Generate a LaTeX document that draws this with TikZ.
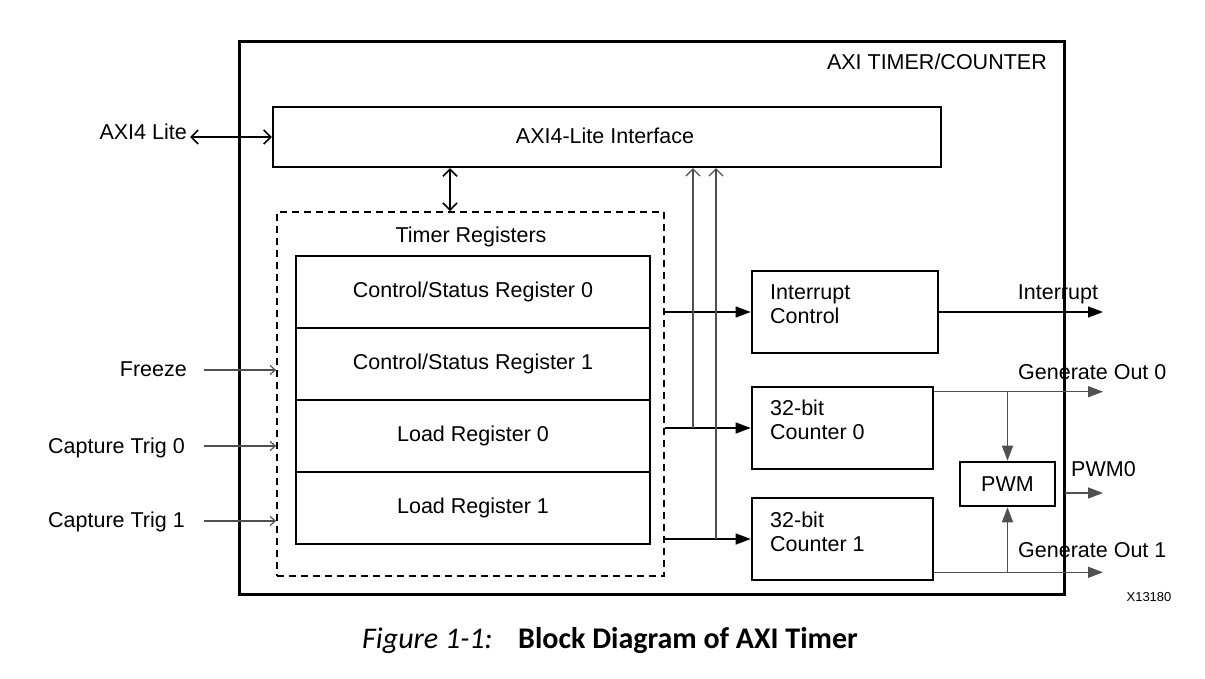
\documentclass[tikz,border=0pt]{standalone}
\usepackage{fontspec}
\setmainfont{Liberation Sans}
\newfontfamily\capfont{Carlito}
\usetikzlibrary{arrows.meta}
\definecolor{lgray}{RGB}{80,80,80}
\tikzset{
  box/.style={draw, line width=2.6pt, inner sep=0pt},
  lbl/.style={inner sep=0pt},
  dbl/.style={line width=1.6pt, {Straight Barb[length=7pt,width=14pt,line width=1.6pt]}-{Straight Barb[length=7pt,width=14pt,line width=1.6pt]}},
  upar/.style={line width=1.4pt, draw=lgray, -{Straight Barb[length=7pt,width=14pt,line width=1.2pt]}},
  inar/.style={line width=1.3pt, draw=lgray, -{Straight Barb[length=5pt,width=9pt,line width=1.2pt]}},
  farrow/.style={line width=1.4pt, -{Triangle[length=15pt,width=11pt]}},
  garrow/.style={line width=1.4pt, draw=lgray, -{Triangle[length=15pt,width=11pt]}, fill=black},
  gline/.style={line width=1.4pt, draw=lgray}
}
\begin{document}
\begin{tikzpicture}[x=1pt,y=-1pt, font=\fontsize{21.5}{25}\selectfont]
\useasboundingbox (0,0) rectangle (1205,679);

% outer box
\node[box, line width=3pt, minimum width=825pt, minimum height=552pt] (outer) at (651.5,318) {};
\node[lbl, anchor=base east] (title) at (1047,70) {AXI TIMER/COUNTER};

% interface
\node[box, line width=2.4pt, minimum width=668pt, minimum height=60pt] (iface) at (607,137) {};
\node[lbl, anchor=base] (ifacet) at (605,143.5) {AXI4-Lite Interface};

% AXI4 Lite
\node[lbl, anchor=base east] (axil) at (187,140) {AXI4 Lite};
\draw[dbl] ([xshift=3pt]axil.east |- iface.west) -- (iface.west);

% dashed timer registers box
\node[draw, line width=1.8pt, dash pattern=on 7pt off 5pt, minimum width=387pt, minimum height=364pt, inner sep=0pt] (dash) at (470.5,394) {};
\node[lbl, anchor=base] (trt) at (471,242.5) {Timer Registers};
\coordinate (vx) at (450,0);
\draw[dbl] (iface.south -| vx) -- (dash.north -| vx);

% registers
\node[box, minimum width=354pt, minimum height=72pt] (r0) at (473,292) {Control/Status Register 0};
\node[box, minimum width=354pt, minimum height=72pt] (r1) at (473,364) {Control/Status Register 1};
\node[box, minimum width=354pt, minimum height=72pt] (r2) at (473,436) {Load Register 0};
\node[box, minimum width=354pt, minimum height=72pt] (r3) at (473,508) {Load Register 1};

% inputs
\node[lbl, anchor=base east] (frz) at (187,376.5) {Freeze};
\node[lbl, anchor=base east] (ct0) at (185,453) {Capture Trig 0};
\node[lbl, anchor=base east] (ct1) at (185,527) {Capture Trig 1};
\coordinate (fi) at (204,370);
\coordinate (c0i) at (204,446);
\coordinate (c1i) at (204,521);
\draw[inar] (fi) -- (fi -| dash.west);
\draw[inar] (c0i) -- (c0i -| dash.west);
\draw[inar] (c1i) -- (c1i -| dash.west);

% right blocks
\node[box, minimum width=186pt, minimum height=82pt] (intr) at (845,312) {};
\node[lbl, anchor=north west, align=left, font=\fontsize{21.5}{24}\selectfont] (intrt) at (770,285) {Interrupt\\Control};
\node[box, minimum width=181pt, minimum height=82pt] (cn0) at (842.5,428) {};
\node[lbl, anchor=north west, align=left, font=\fontsize{21.5}{24}\selectfont] (cn0t) at (770,400) {32-bit\\Counter 0};
\node[box, minimum width=181pt, minimum height=82pt] (cn1) at (842.5,539) {};
\node[lbl, anchor=north west, align=left, font=\fontsize{21.5}{24}\selectfont] (cn1t) at (770,512) {32-bit\\Counter 1};
\node[box, minimum width=95pt, minimum height=44pt] (pwm) at (1007.5,484) {PWM};

% register outputs
\draw[farrow] (dash.east |- intr.west) -- (intr.west);
\draw[farrow] (dash.east |- cn0.west) -- (cn0.west);
\draw[farrow] (dash.east |- cn1.west) -- (cn1.west);
\coordinate (j0) at (693,428);
\coordinate (j1) at (716,539);
\draw[upar] (j0) -- (j0 |- iface.south);
\draw[upar] (j1) -- (j1 |- iface.south);

% outputs
\coordinate (oi) at (1103,312);
\draw[farrow] (intr.east) -- (oi);
\node[lbl, anchor=base] (intl) at (1058,299) {Interrupt};

\coordinate (g0s) at ([yshift=-6pt]cn0.north east);
\draw[garrow] (g0s) -- (g0s -| oi);
\draw[garrow] (g0s -| pwm.north) -- (pwm.north);
\node[lbl, anchor=base west] (g0l) at (1018,379) {Generate Out 0};

\coordinate (g1s) at ([yshift=9pt]cn1.south east);
\draw[garrow] (g1s) -- (g1s -| oi);
\draw[garrow] (g1s -| pwm.south) -- (pwm.south);
\node[lbl, anchor=base west] (g1l) at (1018,557) {Generate Out 1};

\coordinate (p0) at (1065,493);
\draw[garrow] (p0) -- (p0 -| oi);
\node[lbl, anchor=base west] (p0l) at (1071,476) {PWM0};

\node[lbl, anchor=base, font=\fontsize{13}{15}\selectfont] (xid) at (1149,601) {X13180};

% caption
\node[lbl, anchor=base west, font=\capfont\fontsize{30}{34}\selectfont\itshape] (fig) at (362,648) {Figure 1-1:};
\node[lbl, anchor=base west, font=\capfont\fontsize{30}{34}\selectfont\bfseries] (cap) at (518,648) {Block Diagram of AXI Timer};
\end{tikzpicture}
\end{document}
